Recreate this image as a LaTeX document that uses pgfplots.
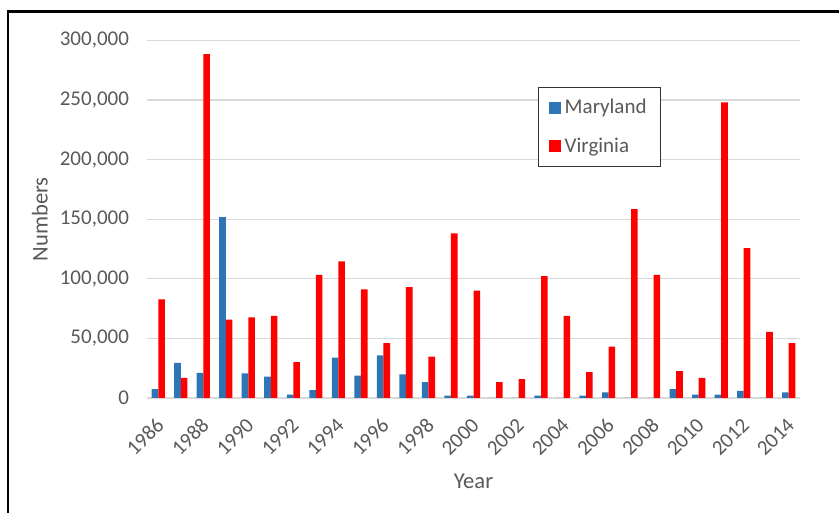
\documentclass[border=0pt]{standalone}
\usepackage{fontspec}
\setmainfont{Carlito}
\usepackage{pgfplots}
\pgfplotsset{compat=1.18}
\definecolor{mdblue}{HTML}{2E75B6}
\definecolor{txtgray}{HTML}{595959}
\definecolor{gridgray}{HTML}{D9D9D9}
\begin{document}
\begin{tikzpicture}
\path[use as bounding box] (-73.5pt,-57.5pt) rectangle (346pt,199pt);
\clip (-73.5pt,-57.5pt) rectangle (346pt,199pt);
\draw[line width=1.3pt] (-69.5pt,-70pt) -- (-69.5pt,193.25pt) -- (360pt,193.25pt);
\begin{axis}[
  at={(0,0)}, anchor=south west,
  scale only axis,
  width=326.5pt, height=178.8pt,
  ybar=0pt, bar width=3.3pt,
  xmin=-0.5, xmax=28.5,
  ymin=0, ymax=300000,
  axis x line*=bottom, axis y line*=left,
  x axis line style={-, draw=gridgray, line width=0.8pt},
  y axis line style={draw=none},
  ymajorgrids, grid style={draw=gridgray, line width=0.6pt},
  ytick={0,50000,...,300000},
  scaled y ticks=false,
  /pgf/number format/.cd, fixed, set thousands separator={,}, assume math mode=true,
  /pgfplots/.cd,
  ytick style={draw=none},
  yticklabel style={xshift=-5.5pt},
  xtick={0,2,...,28},
  xticklabels={1986,1988,1990,1992,1994,1996,1998,2000,2002,2004,2006,2008,2010,2012,2014},
  xtick style={draw=none},
  xticklabel style={xshift=3.4pt, yshift=-5.1pt, rotate=45, anchor=east},
  extra x ticks={-0.5,1.5,...,27.5},
  extra x tick labels={},
  extra x tick style={grid=none, tick align=outside, major tick length=3pt,
    tick style={draw=gridgray, line width=0.6pt}},
  tick label style={font=\fontsize{10.5}{12}\selectfont, text=txtgray},
  xlabel={Year}, ylabel={Numbers},
  label style={font=\fontsize{11.3}{13}\selectfont, text=txtgray},
  xlabel style={at={(axis description cs:0.5,-0.232)}, anchor=center},
  ylabel style={at={(axis description cs:-0.164,0.5)}, anchor=center, rotate=0},
  legend style={at={(axis description cs:0.599,0.870)}, anchor=north west,
    draw=black!80, line width=0.6pt, fill=white, inner xsep=5pt, inner ysep=3.75pt,
    row sep=6.5pt, font=\fontsize{10.5}{12}\selectfont, text=txtgray,
    cells={anchor=west}},
  legend image code/.code={\path[#1, draw=none] (0pt,-3pt) rectangle (6pt,3pt);},
]
\addplot[fill=mdblue, draw=none] coordinates {
(0,7500) (1,29400) (2,21000) (3,151800) (4,20700) (5,17900) (6,2800) (7,6700)
(8,33800) (9,18700) (10,35800) (11,19900) (12,13400) (13,2000) (14,2000)
(15,0) (16,0) (17,2000) (18,0) (19,2000) (20,4800) (21,0) (22,0) (23,7500)
(24,2800) (25,2800) (26,5900) (27,0) (28,4800)};
\addlegendentry{Maryland}
\addplot[fill=red, draw=none] coordinates {
(0,82800) (1,16800) (2,288500) (3,65700) (4,67700) (5,68800) (6,30200) (7,103200)
(8,114600) (9,91100) (10,46100) (11,93100) (12,34700) (13,138100) (14,90000)
(15,13400) (16,15900) (17,102300) (18,68800) (19,21800) (20,43000) (21,158500)
(22,103200) (23,22600) (24,16800) (25,248000) (26,125800) (27,55400) (28,46100)};
\addlegendentry{Virginia}
\end{axis}
\end{tikzpicture}
\end{document}
